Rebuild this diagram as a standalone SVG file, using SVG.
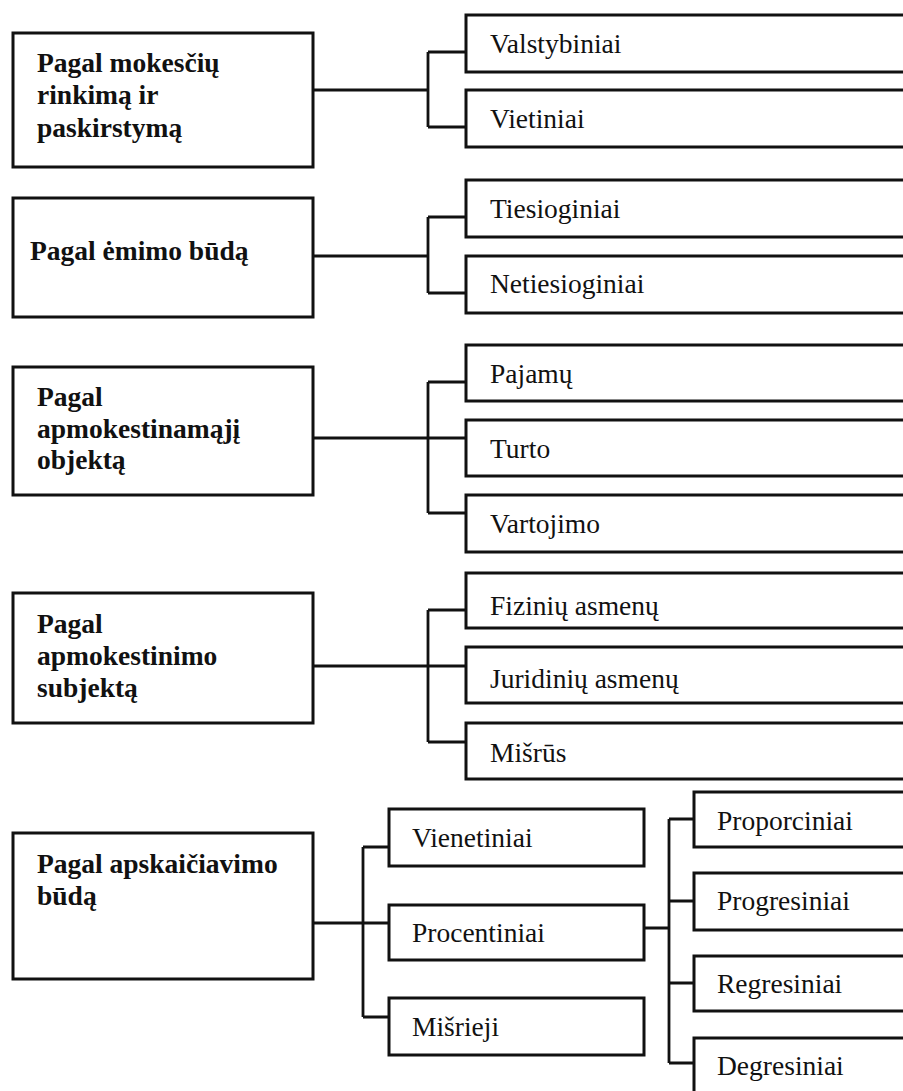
<svg xmlns="http://www.w3.org/2000/svg" width="903" height="1091" viewBox="0 0 903 1091">
<style>
.box{fill:#fff;stroke:#111;stroke-width:3}
.c{fill:none;stroke:#111;stroke-width:2.8}
</style>
<rect width="903" height="1091" fill="#fff"/>
<g id="connectors">
<path class="c" d="M313 90H428M428 52V127M428 52H466M428 127H466"/>
<path class="c" d="M313 256H428M428 217V293M428 217H466M428 293H466"/>
<path class="c" d="M313 438H466M428 382V513M428 382H466M428 513H466"/>
<path class="c" d="M313 666H466M428 610V742M428 610H466M428 742H466"/>
<path class="c" d="M313 923H389M363 847V1017M363 847H389M363 1017H389"/>
<path class="c" d="M644 928H669M669 819V1063M669 819H694M669 901H694M669 983H694M669 1063H694"/>
</g>
<g font-family="Liberation Serif, Tinos, Times New Roman, DejaVu Serif, serif" font-size="27.5" fill="#111">
<g id="n1" font-weight="bold"><rect class="box" x="13" y="33" width="300" height="134"/>
<text x="37" y="72">Pagal mokesčių</text><text x="37" y="104">rinkimą ir</text><text x="37" y="137">paskirstymą</text></g>
<g id="n1a"><rect class="box" x="466" y="15" width="460" height="57"/><text x="490" y="53">Valstybiniai</text></g>
<g id="n1b"><rect class="box" x="466" y="90" width="460" height="57"/><text x="490" y="128">Vietiniai</text></g>
<g id="n2" font-weight="bold"><rect class="box" x="13" y="198" width="300" height="119"/>
<text x="30" y="260">Pagal ėmimo būdą</text></g>
<g id="n2a"><rect class="box" x="466" y="180" width="460" height="57"/><text x="490" y="218">Tiesioginiai</text></g>
<g id="n2b"><rect class="box" x="466" y="256" width="460" height="57"/><text x="490" y="293">Netiesioginiai</text></g>
<g id="n3" font-weight="bold"><rect class="box" x="13" y="367" width="300" height="128"/>
<text x="37" y="406">Pagal</text><text x="37" y="438">apmokestinamąjį</text><text x="37" y="469">objektą</text></g>
<g id="n3a"><rect class="box" x="466" y="345" width="460" height="56"/><text x="490" y="383">Pajamų</text></g>
<g id="n3b"><rect class="box" x="466" y="420" width="460" height="56"/><text x="490" y="458">Turto</text></g>
<g id="n3c"><rect class="box" x="466" y="495" width="460" height="57"/><text x="490" y="533">Vartojimo</text></g>
<g id="n4" font-weight="bold"><rect class="box" x="13" y="593" width="300" height="130"/>
<text x="37" y="633">Pagal</text><text x="37" y="665">apmokestinimo</text><text x="37" y="697">subjektą</text></g>
<g id="n4a"><rect class="box" x="466" y="573" width="460" height="55"/><text x="490" y="615">Fizinių asmenų</text></g>
<g id="n4b"><rect class="box" x="466" y="647" width="460" height="56"/><text x="490" y="688">Juridinių asmenų</text></g>
<g id="n4c"><rect class="box" x="466" y="723" width="460" height="56"/><text x="490" y="762">Mišrūs</text></g>
<g id="n5" font-weight="bold"><rect class="box" x="13" y="833" width="300" height="146"/>
<text x="37" y="873">Pagal apskaičiavimo</text><text x="37" y="905">būdą</text></g>
<g id="n5a"><rect class="box" x="389" y="809" width="255" height="57"/><text x="412" y="847">Vienetiniai</text></g>
<g id="n5b"><rect class="box" x="389" y="905" width="255" height="55"/><text x="412" y="942">Procentiniai</text></g>
<g id="n5c"><rect class="box" x="389" y="998" width="255" height="57"/><text x="412" y="1036">Mišrieji</text></g>
<g id="n6a"><rect class="box" x="694" y="792" width="260" height="55"/><text x="717" y="830">Proporciniai</text></g>
<g id="n6b"><rect class="box" x="694" y="873" width="260" height="57"/><text x="717" y="910">Progresiniai</text></g>
<g id="n6c"><rect class="box" x="694" y="956" width="260" height="55"/><text x="717" y="993">Regresiniai</text></g>
<g id="n6d"><rect class="box" x="694" y="1038" width="260" height="80"/><text x="717" y="1075">Degresiniai</text></g>
</g>
</svg>
